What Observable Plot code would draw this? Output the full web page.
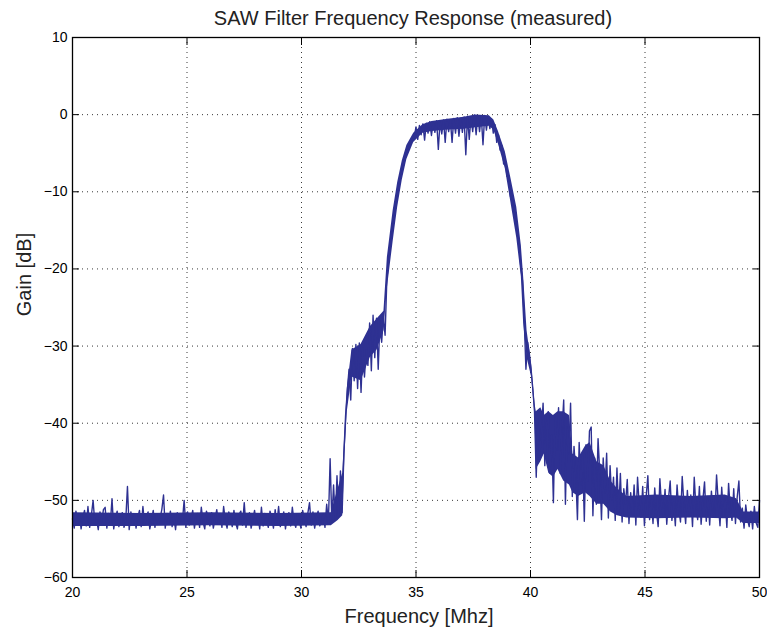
<!DOCTYPE html>
<html>
<head>
<meta charset="utf-8">
<script src="https://cdn.jsdelivr.net/npm/d3@7"></script>
<script src="https://cdn.jsdelivr.net/npm/@observablehq/plot@0.6"></script>
<style>
  html, body { margin: 0; padding: 0; background: #fff; }
  #chart { width: 767px; height: 630px; }
</style>
</head>
<body>
<div id="chart"></div>
<script>
// ---- Text ----
const titleText = "SAW Filter Frequency Response (measured)";
const xLabelText = "Frequency [Mhz]";
const yLabelText = "Gain [dB]";

// ---- Axes ----
const xDomain = [20, 50];
const yDomain = [-60, 10];
const xTicks = [20, 25, 30, 35, 40, 45, 50];
const yTicks = [-60, -50, -40, -30, -20, -10, 0, 10];

// ---- Measured trace (sampled every freqStep MHz from freqStart) ----
const freqStart = 20;
const freqStep = 0.075;
const gainDb = [
  -52.4,-53.6,-51.4,-52.9,-51.8,-53.7,-52.2,-51.3,-53.3,-50.8,
  -53.5,-51.9,-50.0,-53.0,-52.5,-53.8,-51.5,-52.8,-51.2,-50.9,
  -53.6,-51.7,-53.1,-49.8,-53.7,-52.3,-51.4,-53.4,-52.0,-51.6,
  -53.5,-52.6,-48.2,-53.8,-51.5,-53.0,-51.9,-53.6,-52.2,-51.3,
  -53.4,-50.8,-53.2,-52.0,-51.5,-53.7,-52.6,-51.3,-53.5,-51.8,
  -53.0,-52.3,-51.2,-49.3,-53.6,-51.7,-52.9,-51.4,-53.4,-52.1,
  -53.8,-51.6,-53.1,-51.9,-52.7,-50.0,-53.5,-51.5,-53.2,-52.4,
  -51.3,-53.6,-52.0,-51.7,-53.5,-50.9,-52.8,-53.7,-51.4,-52.2,
  -53.3,-51.6,-53.6,-52.4,-51.2,-53.1,-51.9,-53.5,-50.8,-52.7,
  -53.6,-51.5,-52.3,-53.4,-51.3,-52.9,-53.7,-51.8,-51.4,-53.2,
  -50.3,-53.5,-52.1,-51.6,-53.6,-52.5,-51.3,-53.1,-52.0,-53.7,
  -50.9,-53.3,-51.7,-52.6,-53.5,-51.4,-52.2,-53.6,-51.2,-53.0,
  -50.8,-53.4,-52.4,-51.5,-53.7,-52.0,-51.6,-53.3,-50.9,-52.8,
  -53.5,-51.8,-52.7,-53.6,-51.3,-52.4,-53.4,-51.7,-50.3,-53.2,
  -51.5,-53.6,-52.2,-51.4,-53.3,-52.6,-51.8,-53.5,-50.5,-52.9,
  -44.6,-52.8,-48.0,-52.5,-46.8,-52.0,-46.2,-51.6,-44.0,-39.0,
  -35.8,-33.0,-37.0,-30.3,-34.5,-29.8,-35.5,-29.6,-36.0,-30.2,
  -34.0,-30.5,-32.5,-27.0,-33.2,-26.0,-31.5,-26.4,-33.0,-26.8,
  -29.5,-26.3,-28.6,-21.5,-19.0,-17.0,-15.3,-13.8,-12.2,-10.6,
  -9.3,-8.1,-7.1,-6.2,-5.5,-4.8,-4.2,-3.6,-3.2,-2.9,
  -1.6,-3.2,-1.4,-2.6,-1.2,-3.3,-1.1,-2.4,-0.9,-2.7,
  -1.0,-2.3,-0.8,-4.5,-0.9,-2.5,-0.7,-3.6,-0.6,-2.2,
  -0.7,-3.6,-0.5,-2.4,-0.4,-2.8,-0.5,-2.3,-0.3,-5.2,
  -0.2,-3.2,-0.3,-2.2,-0.05,-2.6,-0.1,-2.2,-0.2,-3.9,
  -0.1,-2.0,-0.2,-1.8,-0.6,-2.4,-1.3,-3.6,-2.6,-4.6,
  -4.0,-6.4,-5.9,-8.0,-8.0,-10.6,-10.3,-12.5,-12.8,-15.5,
  -16.2,-19.7,-21.5,-26.5,-33.0,-29.5,-31.0,-33.0,-35.5,-38.5,
  -47.0,-39.5,-44.5,-41.0,-37.4,-45.5,-40.0,-38.5,-46.5,-41.5,
  -50.3,-39.0,-43.5,-38.0,-46.5,-41.0,-37.0,-50.5,-40.5,-44.0,
  -37.4,-49.5,-43.0,-46.5,-52.5,-42.5,-48.0,-44.0,-52.7,-42.8,
  -47.5,-41.0,-40.5,-52.0,-44.5,-50.5,-42.0,-46.5,-52.5,-44.5,
  -49.0,-43.9,-52.3,-45.5,-50.0,-47.0,-52.6,-45.8,-51.5,-46.5,
  -52.8,-48.5,-50.5,-47.3,-53.0,-49.0,-51.8,-48.0,-53.2,-47.0,
  -50.8,-52.2,-48.2,-53.3,-49.5,-46.8,-52.5,-50.0,-53.0,-48.4,
  -51.5,-53.4,-47.2,-50.8,-52.0,-48.6,-53.1,-49.8,-47.5,-52.6,
  -50.2,-53.3,-48.0,-51.2,-52.8,-46.9,-50.5,-53.0,-48.7,-52.1,
  -49.3,-53.4,-47.0,-51.0,-52.5,-48.2,-53.1,-50.0,-47.6,-52.7,
  -49.5,-53.2,-48.8,-51.6,-52.2,-46.7,-50.3,-53.3,-48.3,-52.0,
  -49.8,-53.5,-47.8,-51.3,-52.6,-48.5,-53.0,-49.6,-47.5,-52.8,
  -51.0,-53.6,-50.6,-52.5,-53.4,-51.4,-53.7,-50.8,-52.9,-53.5,
  -50.0
];

// ---- Dense core of the noisy trace (read envelope) ----
const bandFreq = [20.0, 23.0, 26.0, 29.0, 31.3, 31.6, 31.8, 31.9, 32.0, 32.2, 32.6, 33.0, 33.3, 33.6, 33.75, 34.0, 34.2, 34.4, 34.6, 34.9, 35.3, 35.7, 36.4, 37.1, 37.6, 38.2, 38.4, 38.6, 38.9, 39.15, 39.4, 39.6, 39.7, 39.85, 40.05, 40.2, 40.25, 40.45, 40.6, 40.8, 41.0, 41.2, 41.45, 41.7, 41.85, 42.1, 42.4, 42.6, 42.9, 43.2, 43.5, 43.8, 44.2, 45.5, 47.0, 48.5, 49.0, 49.3, 50.0];
const bandLo   = [-53.4, -53.4, -53.3, -53.4, -53.3, -52.6, -52.0, -44.0, -38.5, -34.0, -34.5, -31.5, -30.5, -28.0, -22.5, -16.5, -12.0, -8.5, -5.8, -3.6, -2.4, -2.2, -2.0, -1.9, -1.7, -1.5, -2.0, -3.8, -7.0, -11.5, -16.0, -21.0, -27.0, -31.5, -34.0, -39.0, -46.0, -45.0, -44.0, -46.5, -47.0, -46.0, -47.5, -48.0, -49.0, -49.5, -49.0, -49.5, -50.5, -50.5, -51.5, -52.0, -52.3, -52.4, -52.3, -52.4, -52.3, -53.0, -53.0];
const bandHi   = [-51.6, -51.7, -51.6, -51.7, -51.6, -48.5, -46.5, -41.0, -35.5, -30.5, -29.8, -27.5, -26.5, -25.5, -18.5, -12.5, -8.8, -6.0, -4.0, -2.4, -1.3, -0.9, -0.6, -0.35, -0.05, -0.15, -0.7, -2.2, -4.8, -8.3, -12.0, -17.0, -21.0, -28.0, -32.5, -37.5, -38.5, -38.0, -39.0, -38.5, -39.0, -38.5, -38.5, -39.0, -44.0, -44.5, -43.0, -42.5, -45.0, -45.5, -47.5, -48.5, -49.5, -49.3, -49.5, -49.3, -49.8, -51.5, -51.5];

const lineColor = "#2e3192";

const trace = gainDb.map((g, i) => ({f: freqStart + i * freqStep, g}));
const band = bandFreq.map((f, i) => ({f, lo: bandLo[i], hi: bandHi[i]}));

const chart = Plot.plot({
  width: 767,
  height: 630,
  marginLeft: 72,
  marginRight: 8,
  marginTop: 37,
  marginBottom: 53,
  style: {fontFamily: "'Liberation Sans', Arial, Helvetica, sans-serif", fontSize: "14px", color: "#000", background: "#fff"},
  x: {domain: xDomain},
  y: {domain: yDomain},
  marks: [
    Plot.gridX(xTicks.slice(1, -1), {stroke: "#222", strokeOpacity: 0.9, strokeDasharray: "1,4"}),
    Plot.gridY(yTicks.slice(1, -1), {stroke: "#222", strokeOpacity: 0.9, strokeDasharray: "1,4"}),
    Plot.areaY(band, {x: "f", y1: "lo", y2: "hi", fill: lineColor}),
    Plot.line(trace, {x: "f", y: "g", stroke: lineColor, strokeWidth: 1.4}),
    // inward ticks on all four sides
    Plot.axisX({anchor: "bottom", ticks: xTicks, tickSize: 7, dy: -7, tickFormat: () => "", label: null, stroke: "#000"}),
    Plot.axisX({anchor: "top", ticks: xTicks, tickSize: 7, dy: 7, tickFormat: () => "", label: null, stroke: "#000"}),
    Plot.axisY({anchor: "left", ticks: yTicks, tickSize: 7, dx: 7, tickFormat: () => "", label: null, stroke: "#000"}),
    Plot.axisY({anchor: "right", ticks: yTicks, tickSize: 7, dx: -7, tickFormat: () => "", label: null, stroke: "#000"}),
    // tick labels
    Plot.axisX({anchor: "bottom", ticks: xTicks, tickSize: 0, tickPadding: 10, label: null, fontSize: 14}),
    Plot.axisY({anchor: "left", ticks: yTicks, tickSize: 0, tickPadding: 5, label: null, fontSize: 14}),
    Plot.frame({stroke: "#000", strokeWidth: 1.3}),
    // title and axis labels
    Plot.text([titleText], {frameAnchor: "top", lineAnchor: "bottom", dy: -13, dx: -3, fontSize: 20, fill: "#222"}),
    Plot.text([xLabelText], {frameAnchor: "bottom", lineAnchor: "bottom", dy: 45, dx: 3, fontSize: 20, fill: "#222"}),
    Plot.text([yLabelText], {frameAnchor: "left", textAnchor: "middle", rotate: -90, dx: -48, dy: -33, fontSize: 20, fill: "#222"})
  ]
});
document.getElementById("chart").appendChild(chart);
</script>
</body>
</html>
